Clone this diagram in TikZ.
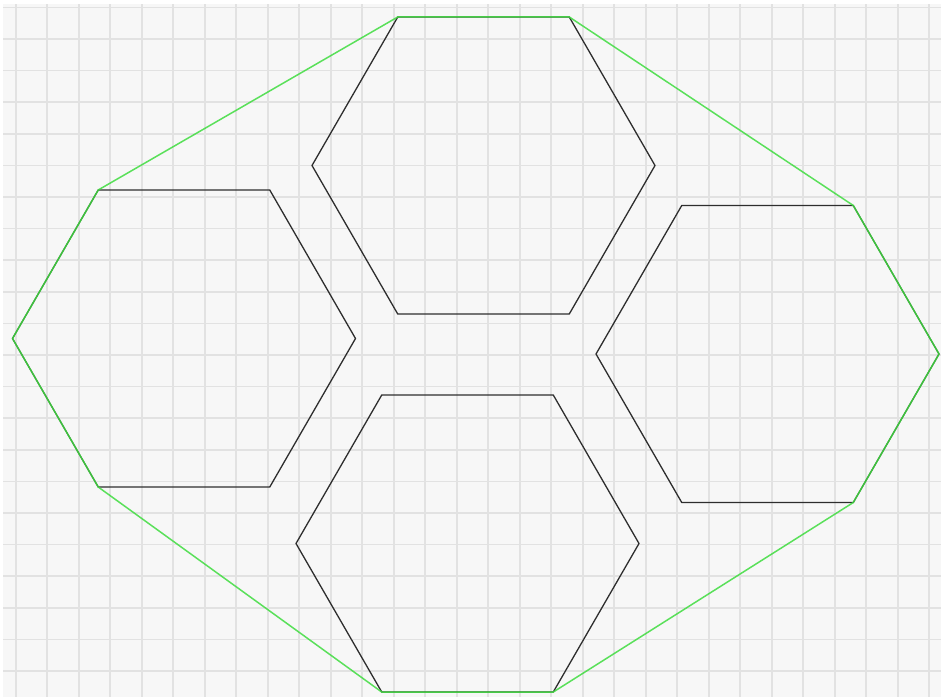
\documentclass[tikz,border=0pt]{standalone}
\usetikzlibrary{calc}

\definecolor{paper}{HTML}{F7F7F7}
\definecolor{gridline}{HTML}{E2E2E2}
\definecolor{hullgreen}{HTML}{3FDC3F}
\definecolor{hexline}{HTML}{2E2E2E}

\begin{document}
\begin{tikzpicture}[
  x=1pt, y=-1pt,
  grid line/.style={draw=gridline,line width=1.6pt},
  hex line/.style={draw=hexline,line width=1.3pt,line join=round},
  hull line/.style={draw=hullgreen,line width=1.5pt,line join=round,draw opacity=0.85},
]
\useasboundingbox (0,0) rectangle (941,699);
\fill[white] (0,0) rectangle (941,699);
\fill[paper] (3,4) rectangle (941,697);
% grid
\foreach \i in {0,...,29}
  \draw[grid line] ({15.7+31.5*\i},4) -- ({15.7+31.5*\i},697);
\foreach \j in {0,...,21}
  \draw[grid line] (3,{7.3+31.6*\j}) -- (941,{7.3+31.6*\j});
% hexagon centres
\coordinate (top) at (483.5,165.5);
\coordinate (left) at (184,338.5);
\coordinate (right) at (767.5,354);
\coordinate (bottom) at (467.5,543.5);
% corners
\foreach \h in {top,left,right,bottom}
  \foreach \k in {0,...,5}
    \coordinate (\h-\k) at ($(\h)+(60*\k:171.5)$);
\foreach \h in {top,left,right,bottom}
  \draw[hex line] (\h-0) -- (\h-1) -- (\h-2) -- (\h-3) -- (\h-4) -- (\h-5) -- cycle;
% convex hull
\draw[hull line] (top-4) -- (top-5) -- (right-5) -- (right-0) -- (right-1)
  -- (bottom-1) -- (bottom-2) -- (left-2) -- (left-3) -- (left-4) -- cycle;
\end{tikzpicture}
\end{document}
